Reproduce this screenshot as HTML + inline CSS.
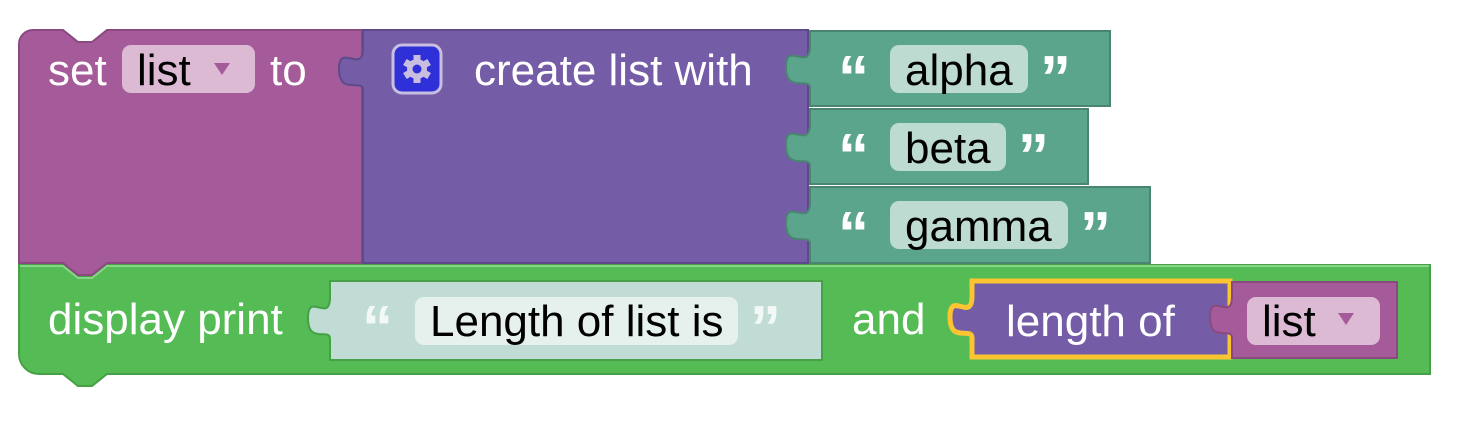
<!DOCTYPE html>
<html><head><meta charset="utf-8"><style>
html,body{margin:0;padding:0;background:#fff;width:1464px;height:432px;overflow:hidden}
svg{display:block}
text{font-family:"Liberation Sans",sans-serif;font-size:44px}
.w{fill:#fff}.b{fill:#000}
.q{font-family:"Liberation Sans",sans-serif;font-weight:bold;font-size:62px;fill:#fff}
</style></head><body>
<svg width="1464" height="432" viewBox="0 0 1464 432">
<path d="M19,265 H63 l15,12 h14 l15,-12 H1430 V374 H107 l-15,12 h-14 l-15,-12 H39 a20,20 0 0 1 -20,-20 Z" fill="#55bb55" stroke="#46a046" stroke-width="2"/>
<path d="M20,266 H63 l15,12 h14 l15,-12 H1429" fill="none" stroke="#88d488" stroke-width="2"/>
<path d="M19,44 a14,14 0 0 1 14,-14 H63 l15,12 h14 l15,-12 H362 V263 H107 l-15,12 h-14 l-15,-12 H19 Z" fill="#a55b99" stroke="#8a4a80" stroke-width="2"/>
<path d="M363,30 H808 V263 H363 V90 c0,-12 -24,6 -24,-21 s24,6 24,-21 Z" fill="#745ca6" stroke="#5e4a8a" stroke-width="2"/>
<rect x="393" y="45" width="48" height="48" rx="9" fill="#3030d8" stroke="#c8bfe0" stroke-width="3"/>
<g transform="translate(417,69)" fill="#c8bfe0">
<circle r="10"/>
<g><rect x="-3.5" y="-14" width="7" height="28"/><rect x="-3.5" y="-14" width="7" height="28" transform="rotate(60)"/><rect x="-3.5" y="-14" width="7" height="28" transform="rotate(120)"/></g>
<circle r="4.5" fill="#3030d8"/>
</g>
<path d="M810,31 H1110 V106 H810 V88 c0,-12 -24,6 -24,-21 s24,6 24,-21 Z" fill="#5ba58c" stroke="#4a8570" stroke-width="2"/>
<path d="M810,109 H1088 V184 H810 V166 c0,-12 -24,6 -24,-21 s24,6 24,-21 Z" fill="#5ba58c" stroke="#4a8570" stroke-width="2"/>
<path d="M810,187 H1150 V263 H810 V244 c0,-12 -24,6 -24,-21 s24,6 24,-21 Z" fill="#5ba58c" stroke="#4a8570" stroke-width="2"/>
<path d="M330,281 H822 V360 H330 V339 c0,-12 -22,6 -22,-21 s22,6 22,-21 Z" fill="#c0dcd4" stroke="#46a046" stroke-width="2"/>
<path d="M972,281 H1230 V357 H972 V338 c0,-12 -22,6 -22,-21 s22,6 22,-21 Z" fill="#745ca6" stroke="#fbc532" stroke-width="5"/>
<path d="M1232,282 H1397 V358 H1232 V338 c0,-12 -22,6 -22,-21 s22,6 22,-21 Z" fill="#a55b99" stroke="#8a4a80" stroke-width="2"/>
<rect x="122" y="45" width="133" height="48" rx="9" fill="#dcbad4"/>
<rect x="890" y="45" width="138" height="48" rx="9" fill="#bddbd0"/>
<rect x="890" y="123" width="116" height="48" rx="9" fill="#bddbd0"/>
<rect x="890" y="201" width="178" height="48" rx="9" fill="#bddbd0"/>
<rect x="415" y="297" width="323" height="48" rx="9" fill="#e6f1ee"/>
<rect x="1247" y="297" width="133" height="48" rx="9" fill="#dcbad4"/>
<path d="M214,63 h16 l-8,12 Z" fill="#a55b99"/>
<path d="M1338,313 h16 l-8,12 Z" fill="#a55b99"/>
<text class="w" x="48" y="85">set</text>
<text class="b" x="137" y="85">list</text>
<text class="w" x="270" y="85">to</text>
<text class="w" x="474" y="85">create list with</text>
<text class="q" x="838" y="99">“</text><text class="b" x="905" y="85">alpha</text><text class="q" x="1040" y="99">”</text>
<text class="q" x="838" y="177">“</text><text class="b" x="905" y="163">beta</text><text class="q" x="1018" y="177">”</text>
<text class="q" x="838" y="255">“</text><text class="b" x="905" y="241">gamma</text><text class="q" x="1080" y="255">”</text>
<text class="w" x="48" y="334">display print</text>
<text class="q" x="362" y="349" style="fill:#f2f8f6">“</text><text class="b" x="430" y="336">Length of list is</text><text class="q" x="750" y="349" style="fill:#f2f8f6">”</text>
<text class="w" x="852" y="334">and</text>
<text class="w" x="1006" y="336">length of</text>
<text class="b" x="1262" y="336">list</text>
</svg>
</body></html>
